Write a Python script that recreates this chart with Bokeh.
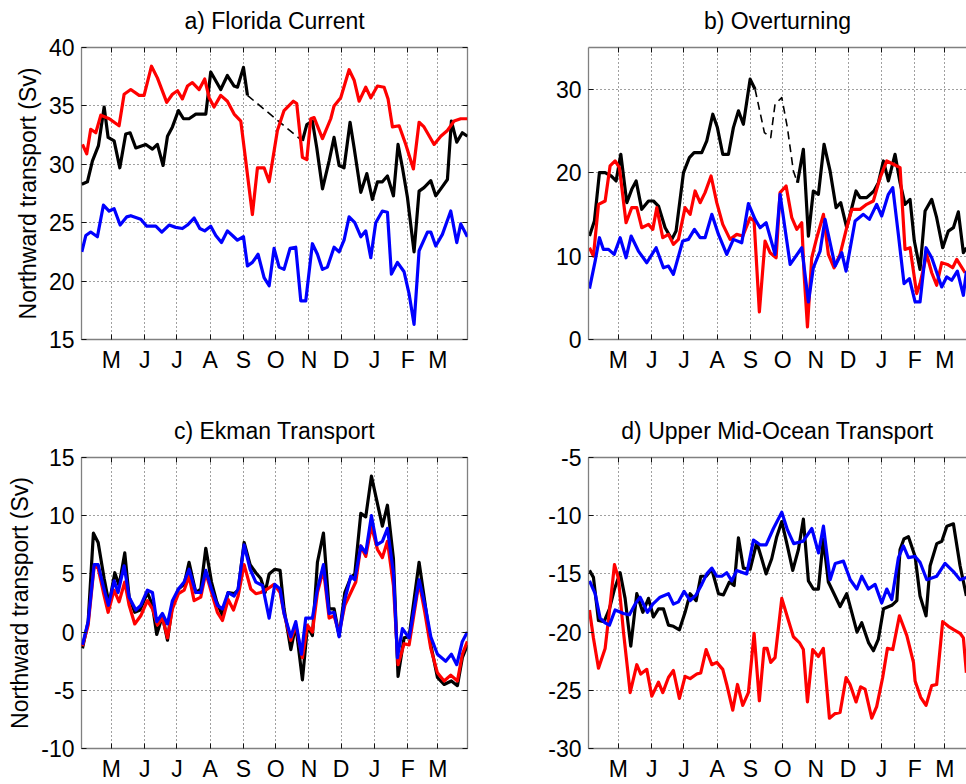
from bokeh.plotting import figure
from bokeh.layouts import column, row
from bokeh.models import FixedTicker, Range1d, LinearAxis, CustomLabelingPolicy
from bokeh.embed import file_html
from bokeh.resources import INLINE

# x values: days since 1 April 2004
MONTH_DAYS = [30, 61, 91, 122, 153, 183, 214, 244, 275, 306, 334]
MONTH_LABELS = ["M", "J", "J", "A", "S", "O", "N", "D", "J", "F", "M"]

# ---------------- a) Florida Current ----------------
fc_red = [(3.0, 31.7), (7.0, 30.9), (10.7, 33.0), (15.4, 32.7), (20.1, 34.2), (28.0, 33.9), (37.1, 33.3),
          (41.8, 36.0), (48.0, 36.4), (55.8, 35.9), (60.4, 35.9), (67.3, 38.4), (72.8, 37.4), (81.5, 35.3),
          (86.8, 36.0), (91.5, 36.3), (96.1, 35.6), (100.8, 36.7), (105.4, 37.0), (111.7, 36.4), (116.9, 37.3),
          (121.0, 35.7), (125.6, 34.9), (131.8, 35.9), (138.0, 35.4), (144.3, 34.3), (150.5, 33.7), (155.1, 30.3),
          (161.3, 25.7), (166.0, 29.7), (172.2, 29.7), (176.9, 28.5), (184.6, 32.9), (190.8, 34.6), (199.5, 35.4),
          (202.6, 35.2), (207.9, 30.6), (212.0, 30.4), (215.7, 33.9), (218.8, 34.0), (226.6, 32.2), (234.3, 33.9),
          (237.4, 35.0), (243.6, 35.7), (251.4, 38.1), (256.1, 37.2), (260.7, 35.4), (266.9, 36.6), (271.6, 35.7),
          (277.8, 36.7), (284.0, 36.6), (287.7, 35.6), (291.8, 33.2), (298.0, 33.3), (304.2, 31.7), (311.3, 29.6),
          (316.6, 33.6), (321.2, 33.2), (330.6, 31.7), (336.8, 32.4), (343.0, 32.9), (349.2, 33.7), (355.4, 33.9),
          (361.6, 33.9)]
fc_black_1 = [(2.4, 28.3), (7.6, 28.5), (12.3, 30.3), (17.9, 31.6), (23.2, 34.9), (26.9, 32.3), (32.5, 32.0),
              (37.8, 29.7), (43.3, 32.6), (47.4, 32.7), (52.7, 31.4), (62.0, 31.7), (68.2, 31.3), (72.8, 31.7),
              (78.1, 29.9), (82.2, 32.4), (86.8, 33.2), (92.4, 34.6), (97.1, 33.9), (102.3, 33.9), (108.6, 34.3),
              (113.2, 34.3), (117.9, 34.3), (122.5, 37.9), (131.8, 36.4), (138.0, 37.6), (144.3, 36.7),
              (147.4, 36.6), (153.0, 38.3), (156.7, 35.9)]
fc_black_gap = [(156.7, 35.9), (207.9, 32.0)]
fc_black_2 = [(207.9, 32.0), (212.0, 33.4), (217.2, 33.7), (221.3, 31.4), (226.6, 27.9), (232.8, 30.3),
              (237.4, 32.3), (242.1, 29.9), (246.7, 29.7), (252.3, 33.6), (256.1, 31.4), (262.3, 27.6),
              (267.9, 29.2), (273.1, 27.0), (277.8, 28.5), (282.4, 28.5), (287.1, 29.0), (292.7, 27.3),
              (297.0, 31.7), (301.1, 29.7), (305.7, 27.2), (311.9, 22.5), (316.6, 27.7), (321.2, 28.0),
              (327.5, 28.6), (332.1, 27.3), (336.8, 27.9), (343.0, 28.7), (346.7, 33.7), (351.7, 31.9),
              (356.9, 32.7), (361.6, 32.4)]
fc_blue = [(2.4, 22.5), (6.1, 23.9), (10.7, 24.2), (16.9, 23.8), (22.5, 26.5), (27.8, 26.0), (32.5, 26.2),
           (38.1, 24.8), (44.3, 25.5), (48.0, 25.6), (57.3, 25.3), (62.9, 24.7), (71.3, 24.7), (76.9, 24.2),
           (83.7, 24.8), (89.9, 24.6), (96.1, 24.5), (100.8, 24.8), (107.0, 25.4), (112.3, 24.5), (116.9, 24.3),
           (122.5, 24.7), (127.2, 23.9), (132.5, 23.3), (138.0, 24.3), (142.7, 23.9), (147.4, 23.5), (153.0, 23.8),
           (156.7, 21.3), (161.3, 21.6), (166.6, 22.3), (172.2, 20.3), (176.9, 19.6), (181.5, 22.8), (186.2, 21.2),
           (190.8, 21.0), (196.4, 22.8), (201.7, 22.9), (206.4, 18.3), (211.0, 18.3), (217.2, 23.2), (221.9, 22.3),
           (226.6, 21.0), (231.2, 21.2), (237.4, 22.9), (242.1, 22.5), (246.7, 23.5), (251.4, 25.5), (256.7, 25.0),
           (262.3, 23.8), (266.9, 24.3), (271.6, 22.0), (276.2, 25.0), (282.4, 26.0), (287.1, 25.9), (290.8, 20.6),
           (296.4, 21.6), (302.6, 20.8), (307.3, 18.9), (311.9, 16.3), (316.6, 22.6), (324.4, 24.2), (327.5, 24.2),
           (332.1, 23.0), (338.3, 24.0), (346.1, 26.0), (351.7, 23.3), (355.4, 24.9), (361.6, 23.8)]

# ---------------- b) Overturning ----------------
moc_red = [(3.0, 11.0), (6.7, 10.0), (11.4, 16.2), (17.6, 16.6), (22.2, 20.8), (26.9, 21.4), (30.9, 20.6),
           (37.1, 14.0), (42.4, 15.8), (47.1, 15.8), (51.7, 13.4), (58.0, 13.8), (62.0, 13.2), (65.7, 15.8),
           (71.3, 12.2), (76.6, 12.6), (81.2, 11.4), (85.9, 12.0), (92.1, 15.8), (96.8, 15.0), (101.4, 17.8),
           (106.1, 16.4), (110.7, 17.6), (116.3, 19.6), (121.6, 16.4), (127.2, 13.8), (134.0, 12.0), (140.2, 12.6),
           (145.8, 12.4), (152.7, 14.6), (156.4, 14.2), (161.3, 3.3), (166.6, 11.8), (171.3, 10.4), (176.9, 9.8),
           (180.6, 17.6), (186.2, 18.4), (191.5, 14.6), (196.2, 13.2), (200.8, 14.0), (203.0, 7.8), (206.1, 1.5),
           (210.1, 9.8), (214.8, 12.2), (221.0, 15.0), (225.6, 10.2), (230.9, 8.6), (236.5, 10.2), (242.7, 13.4),
           (247.4, 15.6), (255.1, 15.6), (261.3, 16.2), (267.5, 16.6), (273.8, 19.4), (280.0, 21.4), (286.2, 21.0),
           (292.4, 20.6), (297.0, 10.8), (301.7, 11.0), (307.9, 5.5), (311.0, 6.7), (317.2, 10.2), (321.9, 8.0),
           (326.5, 6.5), (331.2, 9.2), (336.5, 9.0), (341.4, 8.6), (345.2, 9.6), (353.0, 8.0)]
moc_black_1 = [(3.0, 12.4), (7.6, 14.2), (12.3, 20.0), (17.6, 20.0), (23.2, 19.6), (27.8, 19.0), (32.2, 22.2),
               (37.8, 16.4), (42.4, 18.0), (46.5, 19.0), (51.7, 15.6), (58.0, 16.6), (62.6, 16.6), (67.3, 16.0),
               (73.5, 13.4), (79.7, 12.0), (83.7, 13.0), (90.6, 20.0), (96.1, 21.8), (100.5, 22.4), (107.6, 22.4),
               (112.3, 23.8), (117.9, 27.0), (122.2, 25.4), (127.2, 22.2), (132.5, 22.2), (137.1, 25.4),
               (141.8, 27.4), (146.4, 25.8), (152.7, 31.2), (157.3, 30.0)]
moc_black_gap = [(157.3, 30.0), (166.0, 24.8), (171.9, 24.2), (175.9, 28.2), (182.2, 29.0), (187.4, 25.4),
                 (193.0, 20.2), (196.8, 18.8)]
moc_black_2 = [(196.8, 18.8), (202.3, 22.8), (207.0, 12.4), (211.6, 17.8), (216.3, 17.4), (221.6, 23.4),
               (227.2, 20.2), (232.8, 15.8), (237.1, 16.4), (242.7, 13.4), (251.4, 17.8), (255.1, 17.0),
               (261.3, 17.0), (268.1, 17.8), (272.2, 18.8), (276.9, 21.4), (281.5, 19.0), (287.7, 22.2),
               (292.4, 18.8), (297.0, 16.2), (301.7, 16.8), (305.7, 11.8), (311.0, 8.4), (315.7, 15.4),
               (321.9, 16.8), (326.5, 14.6), (332.1, 11.0), (337.4, 13.0), (342.1, 13.4), (346.7, 15.3),
               (351.4, 10.4), (354.2, 11.0)]
moc_blue = [(3.0, 6.1), (8.3, 9.4), (12.3, 12.2), (16.0, 10.8), (20.7, 10.8), (26.0, 10.2), (31.6, 12.2),
            (37.1, 9.8), (41.8, 12.4), (48.6, 10.6), (56.4, 9.2), (65.1, 11.0), (71.9, 8.6), (76.6, 8.8),
            (81.2, 7.8), (89.9, 11.8), (95.2, 12.0), (100.8, 13.2), (106.1, 12.2), (110.7, 12.2), (117.0, 15.0),
            (123.2, 12.6), (130.9, 10.2), (137.1, 12.0), (144.9, 11.6), (151.1, 16.3), (157.3, 14.4), (162.0, 13.4),
            (167.6, 14.0), (175.9, 10.2), (180.6, 17.4), (190.0, 9.0), (200.8, 11.0), (207.0, 4.5), (211.6, 8.6),
            (217.9, 10.6), (222.5, 14.4), (227.2, 11.6), (231.9, 8.8), (238.1, 10.4), (242.1, 8.2), (250.5, 14.2),
            (258.2, 15.0), (263.8, 14.4), (270.6, 16.2), (275.3, 14.8), (281.5, 17.4), (285.6, 18.2), (290.8, 12.6),
            (296.1, 6.7), (301.1, 7.3), (306.4, 4.5), (311.0, 4.5), (316.6, 11.0), (321.9, 9.8), (331.2, 6.3),
            (335.8, 7.5), (340.5, 7.1), (345.8, 8.2), (351.4, 5.3), (354.2, 8.2)]

# ---------------- c) Ekman Transport ----------------
ek_black = [(3.0, -1.4), (8.3, 0.9), (13.2, 8.5), (17.6, 7.7), (23.2, 4.6), (27.8, 2.4), (33.1, 5.1), (37.1, 4.0),
            (42.4, 6.8), (46.5, 3.0), (51.7, 1.7), (56.7, 1.9), (63.5, 3.4), (68.2, 2.3), (72.2, -0.2), (77.5, 1.4),
            (82.2, -0.7), (86.8, 2.3), (92.4, 3.7), (97.7, 4.1), (102.3, 6.0), (108.6, 3.4), (113.2, 3.7),
            (117.9, 7.2), (123.2, 4.3), (128.1, 2.6), (133.4, 1.4), (138.7, 3.4), (144.3, 3.3), (148.0, 3.6),
            (153.6, 7.7), (159.2, 5.8), (164.5, 5.1), (169.1, 4.6), (173.2, 3.4), (176.9, 5.0), (182.2, 5.4),
            (187.1, 5.3), (190.8, 2.0), (197.1, -1.5), (201.7, 0.6), (207.9, -4.1), (212.6, 0.5), (217.2, -0.3),
            (221.9, 6.0), (227.5, 8.5), (232.8, 2.0), (237.4, 2.0), (242.1, -0.3), (247.4, 3.4), (253.0, 4.7),
            (256.7, 5.0), (262.3, 10.2), (266.9, 9.9), (272.2, 13.4), (277.2, 11.3), (282.4, 9.1), (287.1, 10.9),
            (292.7, 6.3), (297.0, -3.8), (302.6, -0.5), (307.3, -0.4), (316.6, 6.0), (321.9, 2.6), (327.5, -1.1),
            (333.7, -3.9), (339.9, -4.5), (346.7, -4.2), (352.3, -4.6), (356.9, -2.2), (361.6, -1.1)]
ek_red = [(3.0, -1.2), (8.3, 0.6), (13.9, 5.7), (17.6, 5.5), (22.5, 3.4), (26.9, 1.7), (32.5, 3.6), (37.1, 2.6),
          (42.4, 4.3), (46.5, 2.3), (51.7, 0.7), (57.3, 1.4), (63.5, 2.7), (68.2, 2.0), (72.8, 0.6), (77.5, 1.2),
          (82.2, -0.5), (86.8, 2.0), (92.4, 3.3), (97.7, 3.6), (102.3, 4.8), (107.0, 2.7), (113.2, 3.0),
          (117.9, 5.1), (123.2, 3.4), (128.7, 1.7), (133.4, 1.0), (138.7, 2.8), (143.7, 1.9), (148.0, 3.1),
          (153.6, 5.8), (159.8, 3.7), (164.5, 3.3), (169.1, 3.4), (175.3, 3.7), (181.5, 4.1), (187.1, 3.4),
          (190.8, 1.6), (197.1, -0.7), (201.7, 0.6), (207.9, -2.2), (212.6, 0.6), (217.2, 0.0), (221.9, 3.4),
          (227.5, 5.4), (232.8, 1.2), (237.4, 1.4), (242.1, -0.1), (247.4, 2.3), (253.0, 3.4), (257.6, 4.3),
          (262.3, 7.4), (266.9, 6.5), (272.2, 9.1), (277.8, 7.1), (282.4, 6.4), (287.1, 7.8), (292.7, 4.0),
          (297.0, -2.8), (302.6, -1.0), (307.3, -1.1), (316.6, 4.3), (321.9, 1.7), (327.5, -1.4), (333.7, -3.5),
          (339.9, -4.2), (346.1, -3.7), (352.3, -4.2), (356.9, -1.9), (361.6, -0.8)]
ek_blue = [(3.0, -1.1), (8.3, 0.9), (13.9, 5.8), (17.6, 5.8), (22.5, 3.9), (27.2, 2.3), (32.5, 4.4), (36.2, 3.4),
           (41.8, 5.7), (46.5, 3.0), (52.7, 1.9), (57.3, 2.3), (63.5, 3.6), (68.2, 3.4), (72.2, 0.9), (77.5, 1.6),
           (82.2, 0.7), (86.8, 2.7), (92.4, 3.7), (97.7, 4.3), (102.3, 5.4), (108.6, 3.4), (113.2, 3.4),
           (117.9, 5.3), (123.2, 3.7), (128.7, 2.3), (133.4, 2.0), (138.7, 3.4), (144.3, 3.1), (148.0, 3.7),
           (153.6, 7.5), (159.2, 5.4), (164.5, 4.3), (170.7, 4.0), (176.9, 1.2), (182.2, 4.1), (187.1, 3.7),
           (190.8, 1.6), (197.1, -0.4), (201.7, 0.9), (207.0, -1.9), (211.0, 1.2), (217.2, 1.2), (221.9, 3.7),
           (227.5, 5.8), (232.8, 1.6), (237.4, 1.7), (242.1, -0.4), (247.4, 2.8), (253.0, 4.8), (256.7, 4.5),
           (262.3, 7.4), (266.9, 6.8), (272.2, 10.0), (277.2, 7.5), (282.4, 7.8), (287.1, 8.9), (292.7, 5.1),
           (296.4, -2.2), (301.1, 0.3), (307.3, -0.5), (316.6, 4.5), (322.8, 2.0), (327.5, -0.4), (333.7, -1.9),
           (341.4, -2.5), (346.7, -1.9), (351.7, -2.8), (356.9, -0.8), (361.6, 0.0)]

# ---------------- d) Upper Mid-Ocean Transport ----------------
umo_black = [(3.0, -14.7), (6.7, -15.3), (11.4, -19.0), (16.6, -19.1), (21.6, -18.0), (26.3, -16.3), (31.6, -14.9),
             (36.2, -17.1), (41.5, -21.2), (47.1, -16.7), (52.7, -18.3), (58.0, -17.1), (62.6, -18.7),
             (67.3, -18.0), (71.9, -18.0), (76.6, -19.4), (81.2, -19.5), (86.8, -19.8), (92.1, -18.3),
             (96.8, -16.7), (102.4, -17.3), (106.7, -15.2), (111.7, -15.2), (117.0, -14.6), (123.2, -16.7),
             (127.8, -16.8), (133.4, -15.7), (137.8, -16.0), (141.8, -11.9), (146.4, -14.5), (152.7, -14.6),
             (158.9, -12.3), (163.5, -13.7), (167.6, -15.0), (172.8, -13.7), (177.5, -11.8), (182.2, -10.5),
             (187.4, -12.6), (192.4, -14.7), (197.7, -12.9), (202.3, -10.3), (207.0, -15.6), (211.6, -16.3),
             (216.3, -16.3), (220.9, -12.0), (225.6, -15.7), (230.3, -16.6), (236.5, -17.8), (242.7, -16.7),
             (247.4, -18.3), (252.3, -20.0), (256.7, -19.2), (263.0, -20.9), (267.6, -21.6), (272.2, -20.6),
             (277.0, -18.0), (284.7, -17.7), (289.4, -17.3), (292.4, -12.9), (296.0, -12.0), (300.2, -11.8),
             (306.4, -13.5), (311.0, -16.9), (316.6, -18.6), (320.4, -14.3), (326.6, -12.4), (331.3, -12.2),
             (336.0, -10.9), (342.1, -10.7), (348.3, -14.3), (354.2, -16.9)]
umo_blue = [(3.0, -15.6), (8.3, -16.7), (12.9, -18.8), (17.6, -19.2), (21.6, -19.4), (26.9, -18.1), (34.7, -18.4),
            (40.2, -18.5), (45.5, -17.6), (50.2, -17.0), (57.0, -18.3), (62.0, -17.6), (68.8, -17.0),
            (76.6, -16.7), (81.2, -17.6), (85.9, -17.4), (91.2, -16.5), (96.8, -17.3), (102.4, -16.8),
            (107.6, -15.9), (112.3, -15.0), (117.0, -14.5), (121.6, -15.2), (126.3, -15.2), (130.9, -14.9),
            (135.6, -15.6), (140.2, -14.7), (149.5, -15.0), (155.8, -12.1), (162.0, -12.5), (167.6, -12.5),
            (174.4, -11.1), (182.2, -9.7), (187.4, -11.2), (193.3, -12.4), (202.0, -12.2), (210.2, -11.1),
            (216.4, -13.2), (221.0, -10.9), (227.2, -15.5), (232.0, -14.1), (239.6, -13.9), (246.0, -15.5),
            (252.1, -16.3), (256.7, -15.2), (262.9, -16.3), (269.1, -15.9), (275.3, -17.5), (280.0, -16.3),
            (284.7, -17.2), (290.9, -13.6), (295.5, -12.6), (300.2, -13.6), (306.4, -13.5), (311.0, -14.0),
            (317.3, -15.5), (326.6, -15.2), (334.3, -14.1), (342.1, -14.8), (348.3, -15.5), (354.2, -15.3)]
umo_red = [(3.0, -18.1), (6.7, -20.5), (11.4, -23.1), (17.6, -21.4), (22.2, -17.7), (26.3, -14.2), (30.0, -15.4),
           (34.7, -20.0), (40.9, -25.2), (47.1, -22.8), (50.8, -23.6), (56.4, -23.2), (61.1, -25.5), (67.3, -24.3),
           (71.3, -25.2), (76.6, -23.9), (81.2, -23.3), (86.8, -25.7), (92.1, -23.8), (96.8, -24.0), (103.0, -23.6),
           (106.7, -23.5), (111.7, -21.5), (117.0, -22.8), (121.6, -22.6), (127.2, -23.2), (130.9, -24.5),
           (136.5, -26.7), (140.9, -24.5), (145.8, -26.3), (151.1, -25.2), (156.4, -20.1), (161.3, -25.9),
           (165.7, -21.4), (168.5, -21.4), (171.9, -22.6), (175.9, -22.2), (182.2, -17.1), (187.4, -18.7),
           (193.0, -20.4), (198.6, -20.9), (202.3, -21.5), (206.1, -26.0), (211.0, -21.5), (216.3, -22.1),
           (220.9, -21.4), (226.6, -27.4), (231.9, -27.0), (236.5, -26.9), (242.1, -23.9), (245.8, -24.5),
           (251.4, -26.0), (255.7, -24.7), (259.8, -24.9), (266.0, -27.4), (270.6, -26.4), (276.2, -23.9),
           (280.6, -21.4), (285.6, -21.5), (291.8, -18.6), (298.7, -20.3), (304.9, -22.6), (306.4, -24.2),
           (311.6, -25.6), (316.6, -26.3), (321.9, -24.6), (326.5, -24.5), (332.1, -19.1), (337.4, -19.5),
           (342.7, -19.8), (348.3, -20.1), (351.4, -20.5), (354.2, -23.5)]

FONT = "Liberation Sans"
FS = "23px"
RED, BLUE, BLACK = "#ff0000", "#0000ff", "#000000"
FRAME = "#808080"
X0, XEND_L, XEND_R = 2.1, 361.7, 354.3

# opposite-side axes only carry inward ticks: drop all of their labels
NO_LABELS = CustomLabelingPolicy(code="""
const all = Array.from(indices)
for (const i of all) { indices.unset(i) }
return indices
""")


def unzip(pairs):
    return [p[0] for p in pairs], [p[1] for p in pairs]


def style_axis(ax, line_color, labelled=True):
    ax.axis_line_color = line_color
    ax.axis_line_width = 1.3
    ax.major_tick_in = 5
    ax.major_tick_out = 0
    ax.major_tick_line_color = "#111111"
    ax.major_tick_line_width = 1
    ax.minor_tick_line_color = None
    ax.major_label_text_font = FONT
    ax.major_label_text_color = "black"
    if labelled:
        ax.major_label_text_font_size = FS
        ax.major_label_standoff = 7
    else:
        ax.major_label_policy = NO_LABELS
        ax.major_label_text_font_size = "1px"
        ax.major_label_standoff = 0


def panel(title, yr, yticks, xend, width, height, bl, br, bt, bb, ylabel, closed_box):
    p = figure(width=width, height=height, output_backend="svg", toolbar_location=None,
               x_range=Range1d(X0, xend), y_range=Range1d(*yr),
               min_border_left=bl, min_border_right=br, min_border_top=bt, min_border_bottom=bb,
               background_fill_color="white", border_fill_color="white")
    xt = FixedTicker(ticks=MONTH_DAYS)
    yt = FixedTicker(ticks=yticks)
    xa = p.xaxis[0]
    ya = p.yaxis[0]
    xa.ticker = xt
    ya.ticker = yt
    xa.major_label_overrides = {d: l for d, l in zip(MONTH_DAYS, MONTH_LABELS)}
    ya.major_label_overrides = {t: str(t) for t in yticks}
    # top edge: inward month ticks; its axis label carries the panel title
    top = LinearAxis(ticker=xt, axis_label=title)
    top.axis_label_text_font = FONT
    top.axis_label_text_font_size = FS
    top.axis_label_text_font_style = "normal"
    top.axis_label_text_color = "black"
    top.axis_label_standoff = 10
    if closed_box:
        p.outline_line_color = FRAME
        p.outline_line_width = 1.3
        style_axis(xa, None)
        style_axis(ya, None)
        style_axis(top, None, labelled=False)
        rgt = LinearAxis(ticker=yt)
        style_axis(rgt, None, labelled=False)
        p.add_layout(rgt, "right")
    else:
        # panel is cut off by the page edge on the right: bottom, left and top edges only
        p.outline_line_color = None
        style_axis(xa, FRAME)
        style_axis(ya, FRAME)
        style_axis(top, FRAME, labelled=False)
    p.add_layout(top, "above")
    if ylabel:
        ya.axis_label = ylabel
        ya.axis_label_text_font = FONT
        ya.axis_label_text_font_size = FS
        ya.axis_label_text_font_style = "normal"
        ya.axis_label_text_color = "black"
        ya.axis_label_standoff = 5
    for g in (p.xgrid[0], p.ygrid[0]):
        g.grid_line_color = "#000000"
        g.grid_line_alpha = 0.75
        g.grid_line_dash = "1 3"
    return p


def draw(p, pairs, color, width=3.2, dash="solid"):
    x, y = unzip(pairs)
    p.line(x, y, line_color=color, line_width=width, line_dash=dash, line_join="round")


YL = "Northward transport (Sv)"

pa = panel("a) Florida Current", (15, 40), [15, 20, 25, 30, 35, 40], XEND_L, 528, 392, 81, 61, 47, 53, YL, True)
draw(pa, fc_black_1, BLACK)
draw(pa, fc_black_gap, BLACK, 1.6, "8 5")
draw(pa, fc_black_2, BLACK)
draw(pa, fc_red, RED)
draw(pa, fc_blue, BLUE)

pb = panel("b) Overturning", (0, 35), [0, 10, 20, 30], XEND_R, 438, 392, 60, 0, 47, 53, None, False)
draw(pb, moc_black_1, BLACK)
draw(pb, moc_black_gap, BLACK, 1.6, "8 5")
draw(pb, moc_black_2, BLACK)
draw(pb, moc_red, RED)
draw(pb, moc_blue, BLUE)

pc = panel("c) Ekman Transport", (-10, 15), [-10, -5, 0, 5, 10, 15], XEND_L, 528, 392, 81, 61, 65, 33, YL, True)
draw(pc, ek_black, BLACK)
draw(pc, ek_red, RED)
draw(pc, ek_blue, BLUE)

pd = panel("d) Upper Mid-Ocean Transport", (-30, -5), [-30, -25, -20, -15, -10, -5], XEND_R, 438, 392, 60, 0,
           65, 33, None, False)
draw(pd, umo_black, BLACK)
draw(pd, umo_red, RED)
draw(pd, umo_blue, BLUE)

layout = column(row(pa, pb), row(pc, pd))
open("out.html", "w").write(file_html(layout, INLINE))
